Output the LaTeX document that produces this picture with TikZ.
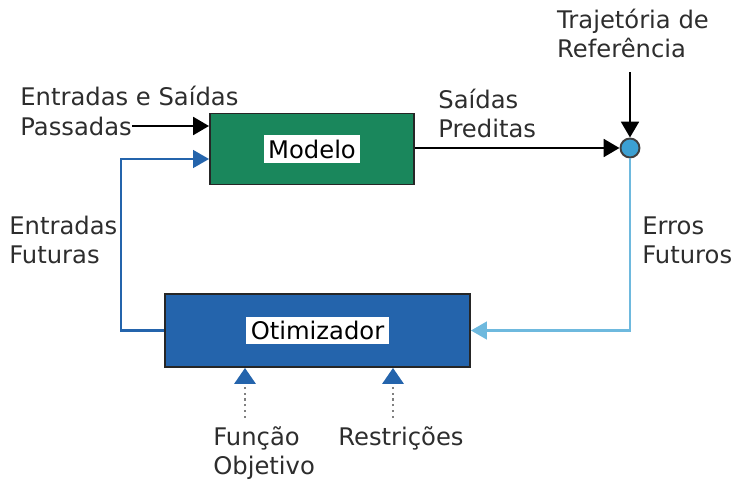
\documentclass[tikz,border=0pt]{standalone}
\usepackage{fontspec}
\setmainfont{DejaVu Sans}
\usetikzlibrary{arrows.meta, calc, positioning}
\definecolor{verdeM}{RGB}{26,135,92}
\definecolor{azulO}{RGB}{36,100,172}
\definecolor{azulC}{RGB}{110,185,222}
\definecolor{azulS}{RGB}{60,160,210}
\definecolor{texto}{RGB}{45,45,45}

\begin{document}
\begin{tikzpicture}[x=0.02cm, y=-0.02cm,
  font=\fontsize{13.8}{16.5}\selectfont, text=texto,
  bloco/.style={draw=black!85, line width=1.1pt},
  rotulo/.style={fill=white, inner sep=2.5pt, text=black},
  txt/.style={anchor=north west, align=left, inner sep=0pt},
  seta/.style={line width=1.7pt, -{Triangle[length=9pt, width=10pt]}},
  fioazul/.style={azulO, line width=1.2pt, -{Triangle[length=9pt, width=10pt]}},
  fioclaro/.style={azulC, line width=1.2pt, -{Triangle[length=9pt, width=10pt]}},
  pontos/.style={gray, dotted, line width=1.3pt, -{Triangle[length=9pt, width=12pt, color=azulO]}}]
\useasboundingbox (0,0) rectangle (734,480);

\node[bloco, fill=verdeM, minimum width=4.08cm, minimum height=1.42cm,
  label={[rotulo]center:Modelo}] (modelo) at (312,149) {};
\node[bloco, fill=azulO, minimum width=6.1cm, minimum height=1.46cm,
  label={[rotulo]center:Otimizador}] (otimiz) at (317.5,330.5) {};
\node[circle, draw=black!75, fill=azulS, line width=1.1pt, minimum size=0.38cm,
  inner sep=0pt] (soma) at (630,148) {};

\node[anchor=west, inner sep=0pt] (entSai) at (20,96) {Entradas e Saídas};
\node[anchor=west, inner sep=0pt] (passadas) at (20,126) {Passadas};
\node[txt] (preditas) at (438,89) {Saídas\\Preditas};
\node[align=left, anchor=north, inner sep=0pt] (traj) at (633,9) {Trajetória de\\Referência};
\node[txt] (entFut) at (9,216) {Entradas\\Futuras};
\node[txt] (erros) at (642,216) {Erros\\Futuros};
\node[txt] (funcao) at (213,426) {Função\\Objetivo};
\node[txt] (restr) at (338,426) {Restrições};

\coordinate (m2) at ($(modelo.west)+(0,10)$);
\coordinate (f1) at (245,418);
\coordinate (r1) at (393,418);

\draw[seta] (passadas.east) -- (passadas.east -| modelo.west);
\draw[seta] (soma -| modelo.east) -- (soma.west);
\draw[seta] ([yshift=-0.28cm]traj.south -| soma) -- (soma.north);
\draw[fioazul] (otimiz.west) -| ($(m2)+(-88,0)$) -- (m2);
\draw[fioclaro] (soma.south) |- (otimiz.east);
\draw[pontos] (f1) -- (f1 |- otimiz.south);
\draw[pontos] (r1) -- (r1 |- otimiz.south);
\end{tikzpicture}
\end{document}
